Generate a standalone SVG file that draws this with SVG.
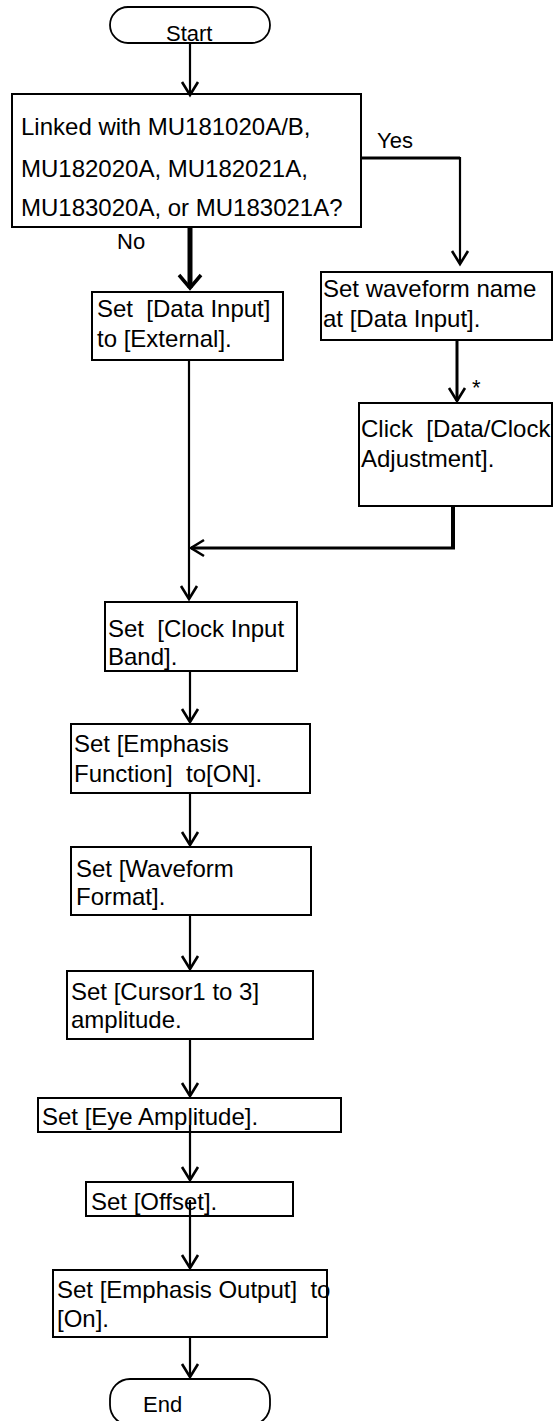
<svg xmlns="http://www.w3.org/2000/svg" width="553" height="1421" viewBox="0 0 553 1421">
<style>
  text { font-family: "Liberation Sans", Arial, sans-serif; font-size: 24px; fill: #000; white-space: pre; }
  .lbl { font-size: 22px; }
  .box { fill: #fff; stroke: #000; stroke-width: 2; }
  .term { fill: #fff; stroke: #000; stroke-width: 1.8; }
  .ln { fill: none; stroke: #000; stroke-width: 2.2; }
  .thick { stroke-width: 4; }
  .heavy { stroke-width: 5; }
</style>
<defs>
  <marker id="arr" viewBox="-16 -12 20 24" refX="0" refY="0" markerWidth="20" markerHeight="24" markerUnits="userSpaceOnUse" orient="auto" overflow="visible">
    <path d="M-13,-8 L0,0 L-13,8" fill="none" stroke="#000" stroke-width="2.6"/>
  </marker>
  <marker id="arrBig" viewBox="-16 -14 20 28" refX="0" refY="0" markerWidth="20" markerHeight="28" markerUnits="userSpaceOnUse" orient="auto" overflow="visible">
    <path d="M-13,-11 L0,0 L-13,11" fill="none" stroke="#000" stroke-width="3.5"/>
  </marker>
</defs>

<g id="start">
  <rect class="term" x="110" y="7" width="160" height="36" rx="18" ry="18"/>
  <text class="lbl" x="166" y="41">Start</text>
</g>

<g id="decision">
  <rect class="box" x="12" y="94" width="349" height="133"/>
  <text x="21" y="135">Linked with MU181020A/B,</text>
  <text x="21" y="177">MU182020A, MU182021A,</text>
  <text x="21" y="216">MU183020A, or MU183021A?</text>
</g>

<g id="data-input-external">
  <rect class="box" x="92" y="292" width="191" height="68"/>
  <text x="97" y="317">Set  [Data Input]</text>
  <text x="97" y="347">to [External].</text>
</g>

<g id="waveform-name">
  <rect class="box" x="321" y="272" width="231" height="68"/>
  <text x="323" y="297">Set waveform name</text>
  <text x="323" y="327">at [Data Input].</text>
</g>

<g id="data-clock-adjust">
  <rect class="box" x="359" y="403" width="193" height="103"/>
  <text x="361" y="437">Click  [Data/Clock</text>
  <text x="361" y="467">Adjustment].</text>
</g>

<g id="clock-input-band">
  <rect class="box" x="105" y="602" width="192" height="69"/>
  <text x="108" y="637">Set  [Clock Input</text>
  <text x="108" y="665">Band].</text>
</g>

<g id="emphasis-function">
  <rect class="box" x="71" y="724" width="239" height="69"/>
  <text x="74" y="752">Set [Emphasis</text>
  <text x="74" y="782">Function]  to[ON].</text>
</g>

<g id="waveform-format">
  <rect class="box" x="71" y="847" width="240" height="68"/>
  <text x="76" y="877">Set [Waveform</text>
  <text x="76" y="905">Format].</text>
</g>

<g id="cursor-amplitude">
  <rect class="box" x="67" y="971" width="246" height="68"/>
  <text x="71" y="1000">Set [Cursor1 to 3]</text>
  <text x="71" y="1028">amplitude.</text>
</g>

<g id="eye-amplitude">
  <rect class="box" x="38" y="1098" width="303" height="34"/>
  <text x="42" y="1125">Set [Eye Amplitude].</text>
</g>

<g id="offset">
  <rect class="box" x="86" y="1182" width="207" height="34"/>
  <text x="91" y="1210">Set [Offset].</text>
</g>

<g id="emphasis-output">
  <rect class="box" x="53" y="1270" width="274" height="67"/>
  <text x="57" y="1298">Set [Emphasis Output]  to</text>
  <text x="57" y="1327">[On].</text>
</g>

<g id="end">
  <rect class="term" x="110" y="1379" width="160" height="46" rx="20" ry="20"/>
  <text class="lbl" x="143" y="1412">End</text>
</g>

<g id="connectors">
  <path class="ln" d="M190,43 V95" marker-end="url(#arr)"/>
  <path class="ln heavy" d="M190,227 V288" marker-end="url(#arrBig)"/>
  <path class="ln" d="M361,158 H460" style="stroke-width:3"/>
  <path class="ln" d="M460,157 V264" marker-end="url(#arr)"/>
  <path class="ln" d="M189,360 V599" marker-end="url(#arr)"/>
  <path class="ln" d="M457,340 V401" style="stroke-width:3" marker-end="url(#arr)"/>
  <path class="ln thick" d="M453,506 V548"/>
  <path class="ln" d="M455,548 H191" style="stroke-width:3" marker-end="url(#arr)"/>
  <path class="ln" d="M190,671 V722" marker-end="url(#arr)"/>
  <path class="ln" d="M190,793 V845" marker-end="url(#arr)"/>
  <path class="ln" d="M190,915 V969" marker-end="url(#arr)"/>
  <path class="ln" d="M190,1039 V1096" marker-end="url(#arr)"/>
  <path class="ln" d="M190,1125 V1180" marker-end="url(#arr)"/>
  <path class="ln" d="M190,1200 V1268" marker-end="url(#arr)"/>
  <path class="ln" d="M190,1336 V1377" marker-end="url(#arr)"/>
  <text class="lbl" x="117" y="249">No</text>
  <text class="lbl" x="377" y="148">Yes</text>
  <text class="lbl" x="472" y="395">*</text>
</g>
</svg>
